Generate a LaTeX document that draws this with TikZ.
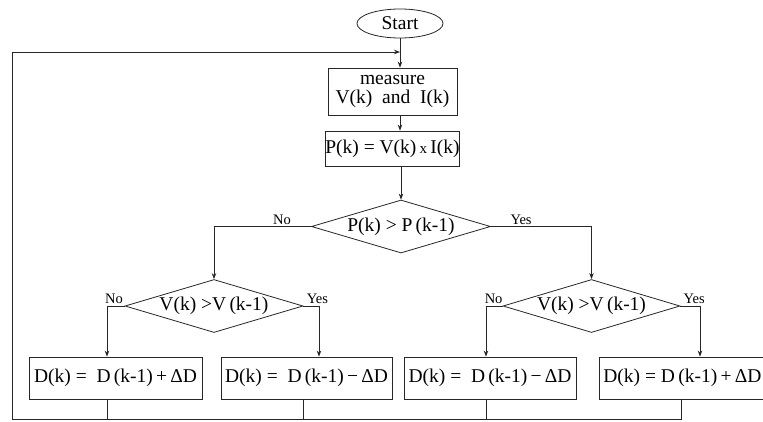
\documentclass[tikz,border=0pt]{standalone}
\usepackage{fontspec}
\setmainfont{Liberation Serif}
\usetikzlibrary{shapes.geometric,arrows.meta,calc}
\begin{document}
\begin{tikzpicture}[x=1pt,y=-1pt,
  every node/.style={font=\fontsize{19.5}{22}\selectfont},
  ln/.style={line width=0.8pt,draw=black!85},
  arr/.style={ln,-{Stealth[length=6pt,width=4.5pt]}},
  term/.style={ellipse,ln,minimum width=86,minimum height=29,inner sep=0},
  pbox/.style={rectangle,ln,inner sep=0,align=center},
  dia/.style={diamond,ln,inner sep=0,aspect=3.4,minimum width=178,minimum height=53},
  lab/.style={font=\fontsize{14.5}{16}\selectfont,inner sep=1.5pt,above}]
\useasboundingbox (0,0) rectangle (763,421);
% nodes
\node[term] (start) at (400,23.5) {Start};
\node[pbox,minimum width=129,minimum height=47] (meas) at (392.5,91.5) {measure\\[-3pt]V(k)\ \ and\ \ I(k)};
\node[pbox,minimum width=129,minimum height=35] (pk) at (392.5,148.5) {P(k) = V(k)\,{\fontsize{15}{15}\selectfont x}\,I(k)};
\node[dia,minimum width=179] (d1) at (401,226.5) {P(k) > P\,(k-1)};
\node[dia] (d2) at (214,306) {V(k) >V\,(k-1)};
\node[dia,minimum width=177] (d3) at (591.5,306) {V(k) >V\,(k-1)};
\node[pbox,minimum width=173,minimum height=42] (b1) at (115.5,378) {D(k) =\ \ D\,(k-1)\,+\,ΔD};
\node[pbox,minimum width=171,minimum height=42] (b2) at (306.5,378) {D(k) =\ \ D\,(k-1)\,−\,ΔD};
\node[pbox,minimum width=172,minimum height=42] (b3) at (490,378) {D(k) =\ \ D\,(k-1)\,−\,ΔD};
\node[pbox,minimum width=173,minimum height=42,anchor=west] (b4) at (599,378) {\hspace*{-7pt}D(k) =\ D\,(k-1)\,+\,ΔD};
% helper coordinates
\coordinate (join) at (400,52);
\coordinate (bl) at (12,419);
\coordinate (x1) at (107,0);
\coordinate (x2in) at (319,0);
\coordinate (x2out) at (303,0);
\coordinate (x3) at (486,0);
\coordinate (x4in) at (700,0);
\coordinate (x4out) at (681,0);
% connectors
\draw[arr] (start.south) -- (start.south |- meas.north);
\draw[arr] (meas.south -| start) -- (pk.north -| start);
\draw[arr] (pk.south -| d1) -- (d1.north);
\draw[arr] (d1.west) -| node[lab,pos=0.15] {No} (d2.north);
\draw[arr] (d1.east) -| node[lab,pos=0.15] {Yes} (d3.north);
\draw[arr] (d2.west) -| node[lab,pos=0.3] {No} (x1 |- b1.north);
\draw[arr] (d2.east) -| node[lab,pos=0.45] {Yes} (x2in |- b2.north);
\draw[arr] (d3.west) -| node[lab,pos=0.27] {No} (x3 |- b3.north);
\draw[arr] (d3.east) -| node[lab,pos=0.35] {Yes} (x4in |- b4.north);
\draw[arr] (x4out |- b4.south) |- (bl) |- (join);
\draw[ln] (x1 |- b1.south) -- (x1 |- bl);
\draw[ln] (x2out |- b2.south) -- (x2out |- bl);
\draw[ln] (x3 |- b3.south) -- (x3 |- bl);
\end{tikzpicture}
\end{document}
